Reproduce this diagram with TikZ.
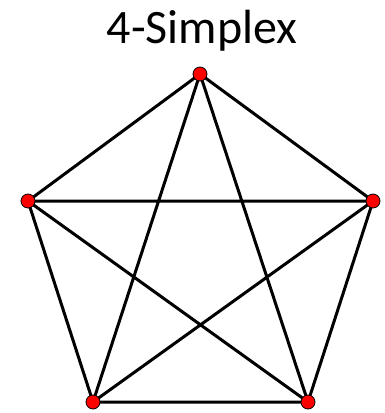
\documentclass[tikz,border=0pt]{standalone}
\usepackage{fontspec}
\setmainfont{Carlito}
\begin{document}
\begin{tikzpicture}[x=1pt,y=-1pt,
  vtx/.style={circle,fill=red,draw=black,line width=0.8pt,minimum size=14pt,inner sep=0pt},
  edge/.style={line width=3pt,black}]
\useasboundingbox (0,0) rectangle (384,413);
\node[font=\fontsize{48}{50}\selectfont,anchor=base] (title) at (202,43) {4-Simplex};
\coordinate (A) at (200,74);
\coordinate (B) at (28,201);
\coordinate (C) at (373,201);
\coordinate (D) at (93,402);
\coordinate (E) at (308,402);
\draw[edge] (A)--(B) (A)--(C) (A)--(D) (A)--(E) (B)--(C) (B)--(D) (B)--(E) (C)--(D) (C)--(E) (D)--(E);
\node[vtx] (a) at (A) {};
\node[vtx] (b) at (B) {};
\node[vtx] (c) at (C) {};
\node[vtx] (d) at (D) {};
\node[vtx] (e) at (E) {};
\end{tikzpicture}
\end{document}
